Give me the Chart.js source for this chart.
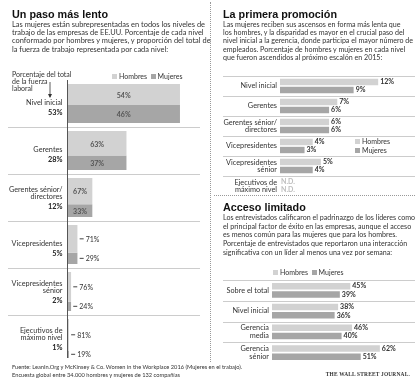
<!DOCTYPE html>
<html lang="es">
<head>
<meta charset="utf-8">
<script src="https://cdn.jsdelivr.net/npm/chart.js@4.4.1/dist/chart.umd.min.js"></script>
<style>
  body { margin:0; width:420px; height:385px; position:relative; overflow:hidden; background:#fff; font-family:Lato, 'Noto Sans', sans-serif; color:#333; }
  canvas { position:absolute; left:0; top:0; }
  .txt { position:absolute; white-space:nowrap; }
  .titulo { font-family:'Liberation Sans', Arial, sans-serif; font-weight:bold; font-size:10.8px; line-height:14px; color:#111; }
  .cuerpo { font-size:7.1px; line-height:8.4px; color:#333; }
  .leyenda { font-size:7px; line-height:8px; color:#333; }
  .sq { display:inline-block; width:5px; height:5px; margin-right:2px; }
  .fuente { font-size:5.7px; line-height:8.6px; color:#333; }
  .wsj { font-family:'Liberation Serif', serif; font-size:5.4px; letter-spacing:0.2px; font-weight:bold; color:#333; }
</style>
</head>
<body>
<canvas id="c1" width="420" height="385"></canvas>
<canvas id="c2" width="420" height="385"></canvas>
<canvas id="c3" width="420" height="385"></canvas>

<div style="position:absolute;left:210px;top:2px;height:360px;border-left:1px dotted #999"></div>
<div style="position:absolute;left:214px;top:195px;width:201px;border-top:1px dotted #999"></div>

<div class="txt titulo" style="left:12px;top:7px">Un paso más lento</div>
<div class="txt cuerpo" style="left:12px;top:20.5px;font-size:7.45px">Las mujeres están subrepresentadas en todos los niveles de<br>trabajo de las empresas de EE.UU. Porcentaje de cada nivel<br>conformado por hombres y mujeres, y proporción del total de<br>la fuerza de trabajo representada por cada nivel:</div>
<div class="txt leyenda" style="left:12px;top:71px;line-height:7px">Porcentaje del total<br>de la fuerza<br>laboral</div>
<svg style="position:absolute;left:47px;top:82px" width="6" height="17"><line x1="3" y1="0" x2="3" y2="15" stroke="#333" stroke-width="0.8"/><path d="M1 12 L3 16 L5 12 Z" fill="#333"/></svg>
<div class="txt leyenda" style="left:112px;top:72px"><span class="sq" id="lh1"></span>Hombres &nbsp;<span class="sq" id="lm1"></span>Mujeres</div>

<div class="txt titulo" style="left:223px;top:7px">La primera promoción</div>
<div class="txt cuerpo" style="left:223px;top:20.5px">Las mujeres reciben sus ascensos en forma más lenta que<br>los hombres, y la disparidad es mayor en el crucial paso del<br>nivel inicial a la gerencia, donde participa el mayor número de<br>empleados. Porcentaje de hombres y mujeres en cada nivel<br>que fueron ascendidos al próximo escalón en 2015:</div>
<div class="txt leyenda" style="left:355px;top:137px;line-height:8.5px"><span class="sq" id="lh2"></span>Hombres<br><span class="sq" id="lm2"></span>Mujeres</div>

<div class="txt titulo" style="left:223px;top:199.5px">Acceso limitado</div>
<div class="txt cuerpo" style="left:223px;top:214px;line-height:8.7px">Los entrevistados calificaron el padrinazgo de los líderes como<br>el principal factor de éxito en las empresas, aunque el acceso<br>es menos común para las mujeres que para los hombres.<br>Porcentaje de entrevistados que reportaron una interacción<br>significativa con un líder al menos una vez por semana:</div>
<div class="txt leyenda" style="left:273px;top:268px"><span class="sq" id="lh3"></span>Hombres &nbsp;<span class="sq" id="lm3"></span>Mujeres</div>

<div class="txt fuente" style="left:12px;top:362.5px">Fuente: LeanIn.Org y McKinsey &amp; Co. Women in the Workplace 2016 (Mujeres en el trabajo).<br>Encuesta global entre 34.000 hombres y mujeres de 132 compañías</div>
<div class="txt wsj" style="right:10px;top:371px">THE WALL STREET JOURNAL.</div>

<script>
// Un paso más lento
var niveles = [['Nivel inicial'], ['Gerentes'], ['Gerentes sénior/', 'directores'], ['Vicepresidentes'], ['Vicepresidentes', 'sénior'], ['Ejecutivos de', 'máximo nivel']]
var fuerzaLaboral = [53, 28, 12, 5, 2, 1]
var hombres = [54, 63, 67, 71, 76, 81]
var mujeres = [46, 37, 33, 29, 24, 19]

// La primera promoción
var nivelesPromo = [['Nivel inicial'], ['Gerentes'], ['Gerentes sénior/', 'directores'], ['Vicepresidentes'], ['Vicepresidentes', 'sénior'], ['Ejecutivos de', 'máximo nivel']]
var promoHombres = [12, 7, 6, 4, 5, null]
var promoMujeres = [9, 6, 6, 3, 4, null]

// Acceso limitado
var grupos = [['Sobre el total'], ['Nivel inicial'], ['Gerencia', 'media'], ['Gerencia', 'sénior']]
var accesoHombres = [45, 38, 46, 62]
var accesoMujeres = [39, 36, 40, 51]

var colorHombres = '#d2d2d2'
var colorMujeres = '#a6a6a6'
var fuente = 'Lato, "Noto Sans", sans-serif'

var leyendas = ['lh1', 'lh2', 'lh3']
for (var i = 0; i < 3; i++) {
  document.getElementById(leyendas[i]).style.background = colorHombres
  document.getElementById('lm' + (i + 1)).style.background = colorMujeres
}

// ---- grafico 1: barras de ancho = fuerza laboral, alto dividido por sexo
var margen = 0.085
var conjuntos = []
for (var i = 0; i < niveles.length; i++) {
  var arriba = i + margen
  var abajo = i + 1 - margen
  var corte = arriba + (abajo - arriba) * hombres[i] / (hombres[i] + mujeres[i])
  conjuntos.push({
    label: 'Hombres',
    data: [{x: 0, y: corte}, {x: fuerzaLaboral[i], y: corte}],
    fill: {value: arriba},
    backgroundColor: colorHombres,
    borderColor: 'rgba(0,0,0,0)',
    borderWidth: 0,
    pointRadius: 0
  })
  conjuntos.push({
    label: 'Mujeres',
    data: [{x: 0, y: abajo}, {x: fuerzaLaboral[i], y: abajo}],
    fill: {value: corte},
    backgroundColor: colorMujeres,
    borderColor: 'rgba(0,0,0,0)',
    borderWidth: 0,
    pointRadius: 0
  })
}

var pasoPlugin = {
  id: 'paso',
  afterDatasetsDraw: function(chart) {
    var ctx = chart.ctx
    var xs = chart.scales.x
    var ys = chart.scales.y
    var area = chart.chartArea
    ctx.save()
    ctx.lineWidth = 1
    ctx.strokeStyle = '#cccccc'
    for (var k = 1; k < niveles.length; k++) {
      var yl = Math.round(ys.getPixelForValue(k)) + 0.5
      ctx.beginPath(); ctx.moveTo(8, yl); ctx.lineTo(area.right, yl); ctx.stroke()
    }
    var x0 = Math.round(xs.getPixelForValue(0)) + 0.5
    ctx.strokeStyle = '#555555'
    ctx.beginPath(); ctx.moveTo(x0, ys.getPixelForValue(0)); ctx.lineTo(x0, ys.getPixelForValue(niveles.length) - 4); ctx.stroke()

    ctx.textBaseline = 'middle'
    for (var i = 0; i < niveles.length; i++) {
      // etiquetas de nivel
      var centro = ys.getPixelForValue(i + 0.5)
      var yp = centro + 9
      ctx.textAlign = 'right'
      ctx.fillStyle = '#222'
      ctx.font = 'bold 7.3px ' + fuente
      ctx.fillText(fuerzaLaboral[i] + '%', x0 - 5, yp)
      ctx.font = '7.3px ' + fuente
      ctx.fillStyle = '#333'
      for (var j = 0; j < niveles[i].length; j++) {
        ctx.fillText(niveles[i][j], x0 - 5, yp - 9.5 - (niveles[i].length - 1 - j) * 7.5)
      }
      // valores
      var arriba = i + margen
      var abajo = i + 1 - margen
      var corte = arriba + (abajo - arriba) * hombres[i] / (hombres[i] + mujeres[i])
      var yH = (ys.getPixelForValue(arriba) + ys.getPixelForValue(corte)) / 2
      var yM = (ys.getPixelForValue(corte) + ys.getPixelForValue(abajo)) / 2
      var xf = xs.getPixelForValue(fuerzaLaboral[i])
      if (xf - x0 > 20) {
        ctx.textAlign = 'center'
        ctx.font = 'bold 7px ' + fuente
        ctx.fillStyle = '#555'
        ctx.fillText(hombres[i] + '%', (x0 + xf) / 2, yH + 1)
        ctx.fillText(mujeres[i] + '%', (x0 + xf) / 2, yM + 1)
      } else {
        ctx.textAlign = 'left'
        ctx.font = '7px ' + fuente
        ctx.fillStyle = '#333'
        ctx.strokeStyle = '#444'
        var vals = [[hombres[i], yH], [mujeres[i], yM]]
        for (var v = 0; v < 2; v++) {
          ctx.beginPath(); ctx.moveTo(xf + 2, vals[v][1]); ctx.lineTo(xf + 6, vals[v][1]); ctx.stroke()
          ctx.fillText(vals[v][0] + '%', xf + 8, vals[v][1] + 0.5)
        }
      }
    }
    ctx.restore()
  }
}

new Chart(document.getElementById('c1'), {
  type: 'line',
  data: {datasets: conjuntos},
  options: {
    responsive: false,
    animation: false,
    layout: {padding: {left: 67, right: 220, top: 80, bottom: 23}},
    scales: {
      x: {type: 'linear', min: 0, max: 62.4, display: false},
      y: {type: 'linear', min: 0, max: 6, reverse: true, display: false}
    },
    plugins: {legend: {display: false}, tooltip: {enabled: false}}
  },
  plugins: [pasoPlugin]
})

// ---- graficos 2 y 3: barras agrupadas
function barrasPlugin(etiquetas, izquierda) {
  return {
    id: 'barras',
    afterDatasetsDraw: function(chart) {
      var ctx = chart.ctx
      var xs = chart.scales.x
      var ys = chart.scales.y
      var area = chart.chartArea
      var paso = ys.getPixelForValue(1) - ys.getPixelForValue(0)
      ctx.save()
      ctx.lineWidth = 1
      ctx.strokeStyle = '#cccccc'
      ctx.textBaseline = 'middle'
      for (var i = 0; i < etiquetas.length; i++) {
        var yl = Math.round(ys.getPixelForValue(i) - paso / 2) + 0.5
        ctx.beginPath(); ctx.moveTo(izquierda, yl); ctx.lineTo(area.right, yl); ctx.stroke()
        var lineas = etiquetas[i]
        ctx.textAlign = 'right'
        ctx.font = '7.3px ' + fuente
        ctx.fillStyle = '#333'
        for (var j = 0; j < lineas.length; j++) {
          ctx.fillText(lineas[j], area.left - 3, ys.getPixelForValue(i) + (j - (lineas.length - 1) / 2) * 7.5)
        }
      }
      ctx.textAlign = 'left'
      ctx.font = 'bold 7px ' + fuente
      chart.data.datasets.forEach(function(ds, d) {
        var meta = chart.getDatasetMeta(d)
        meta.data.forEach(function(barra, j) {
          if (ds.data[j] === null) {
            ctx.fillStyle = '#bdbdbd'
            ctx.fillText('N.D.', xs.getPixelForValue(0) + 1, barra.y)
          } else {
            ctx.fillStyle = '#333'
            ctx.fillText(ds.data[j] + '%', barra.x + 2, barra.y)
          }
        })
      })
      ctx.restore()
    }
  }
}

function barras(id, etiquetas, datosH, datosM, maximo, relleno, izquierda) {
  new Chart(document.getElementById(id), {
    type: 'bar',
    data: {
      labels: etiquetas,
      datasets: [
        {label: 'Hombres', data: datosH, backgroundColor: colorHombres, categoryPercentage: 0.8, barPercentage: 0.8},
        {label: 'Mujeres', data: datosM, backgroundColor: colorMujeres, categoryPercentage: 0.8, barPercentage: 0.8}
      ]
    },
    options: {
      indexAxis: 'y',
      responsive: false,
      animation: false,
      layout: {padding: relleno},
      scales: {
        x: {min: 0, max: maximo, display: false},
        y: {display: false}
      },
      plugins: {legend: {display: false}, tooltip: {enabled: false}}
    },
    plugins: [barrasPlugin(etiquetas, izquierda)]
  })
}

barras('c2', nivelesPromo, promoHombres, promoMujeres, 16.5, {left: 280, right: 5, top: 76, bottom: 189}, 223)
barras('c3', grupos, accesoHombres, accesoMujeres, 82.2, {left: 272, right: 5, top: 280, bottom: 22}, 223)
</script>
</body>
</html>
